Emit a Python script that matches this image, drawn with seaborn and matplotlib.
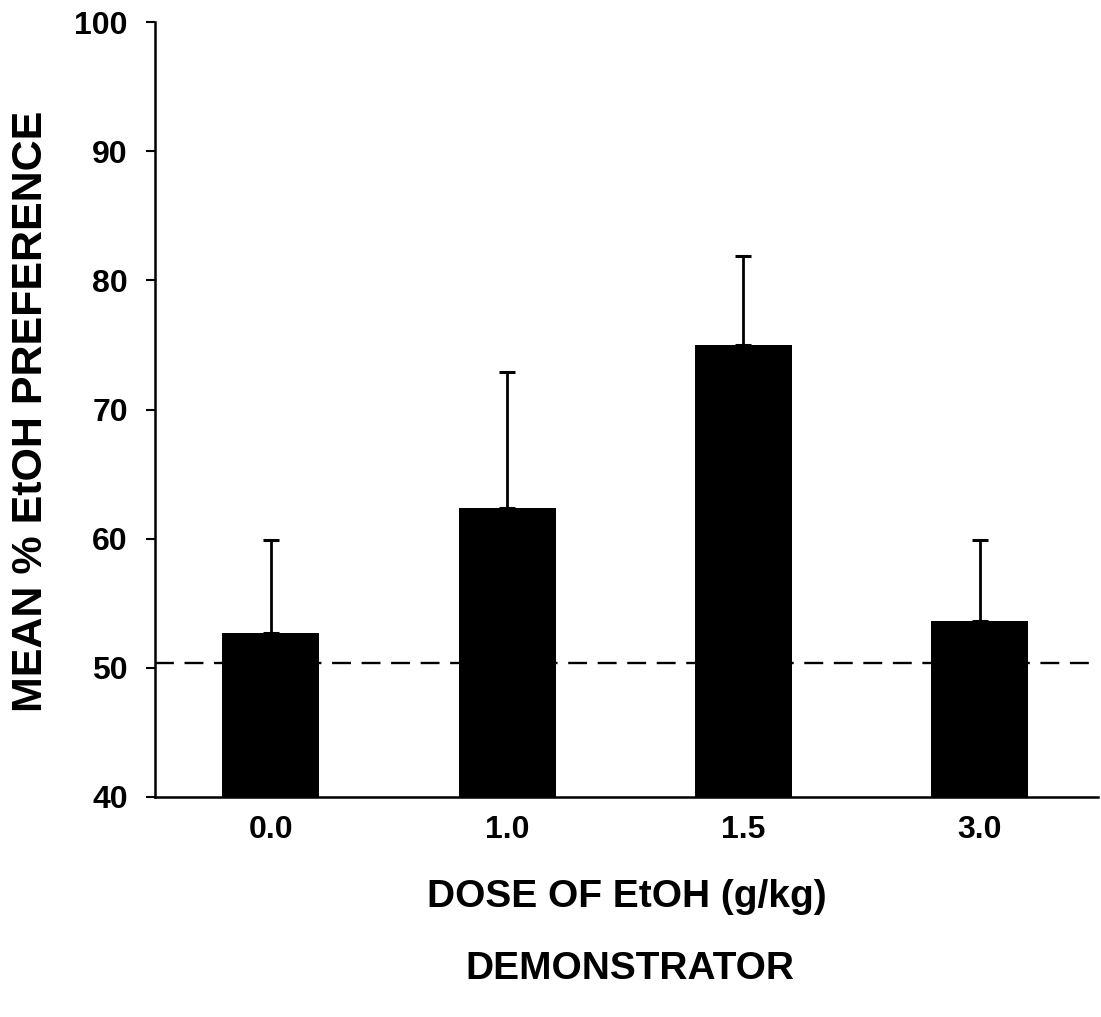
import matplotlib
matplotlib.use("Agg")
import matplotlib.pyplot as plt
import seaborn as sns
import pandas as pd

# Data
doses = ["0.0", "1.0", "1.5", "3.0"]
means = [52.7, 62.4, 75.0, 53.6]
sems = [7.2, 10.5, 6.9, 6.3]
chance_level = 50.4
y_ticks = [40, 50, 60, 70, 80, 90, 100]

df = pd.DataFrame({"dose": doses, "mean": means})

sns.set_theme(style="ticks")
plt.rcParams["font.family"] = ["Liberation Sans", "DejaVu Sans"]
plt.rcParams["font.weight"] = "bold"
plt.rcParams["text.color"] = "black"

W, H = 1101, 1017
fig = plt.figure(figsize=(W / 100, H / 100), dpi=100)
fig.patch.set_facecolor("white")
ax = fig.add_axes([155 / W, 1 - 797 / H, (1098 - 155) / W, (797 - 22) / H])
ax.set_facecolor("white")

sns.barplot(x="dose", y="mean", data=df, color="black", saturation=1,
            width=0.41, errorbar=None, ax=ax, zorder=3,
            edgecolor="black", linewidth=0)

for patch, err in zip(ax.patches, sems):
    xc = patch.get_x() + patch.get_width() / 2
    top = patch.get_y() + patch.get_height()
    ax.errorbar(xc, top, yerr=[[0], [err]], fmt="none", ecolor="black",
                elinewidth=2.0, capsize=6, capthick=2.2, zorder=2)

ax.axhline(chance_level, color="black", lw=1.7, ls=(0, (8, 4.5)), zorder=1)

ax.set_ylim(40, 100)
ax.set_xlim(-0.49, 3.5)
ax.set_yticks(y_ticks)
ax.set_xlabel("")
ax.set_ylabel("")

for s in ["top", "right"]:
    ax.spines[s].set_visible(False)
for s in ["left", "bottom"]:
    ax.spines[s].set_linewidth(1.8)
    ax.spines[s].set_color("black")

ax.tick_params(axis="y", length=6.5, width=1.5, pad=13, labelsize=23, colors="black")
ax.tick_params(axis="x", length=0, pad=13, labelsize=23, colors="black")
for lab in ax.get_xticklabels() + ax.get_yticklabels():
    lab.set_fontweight("bold")

fig.text(627 / W, 1 - 897 / H, "DOSE OF EtOH (g/kg)", ha="center", va="center",
         fontsize=28, fontweight="bold", color="black")
fig.text(630 / W, 1 - 969 / H, "DEMONSTRATOR", ha="center", va="center",
         fontsize=28, fontweight="bold", color="black")
fig.text(31 / W, 1 - 411 / H, "MEAN % EtOH PREFERENCE", ha="center", va="center",
         rotation=90, fontsize=31, fontweight="bold", color="black")

fig.savefig("out.png", dpi=100, facecolor="white")
